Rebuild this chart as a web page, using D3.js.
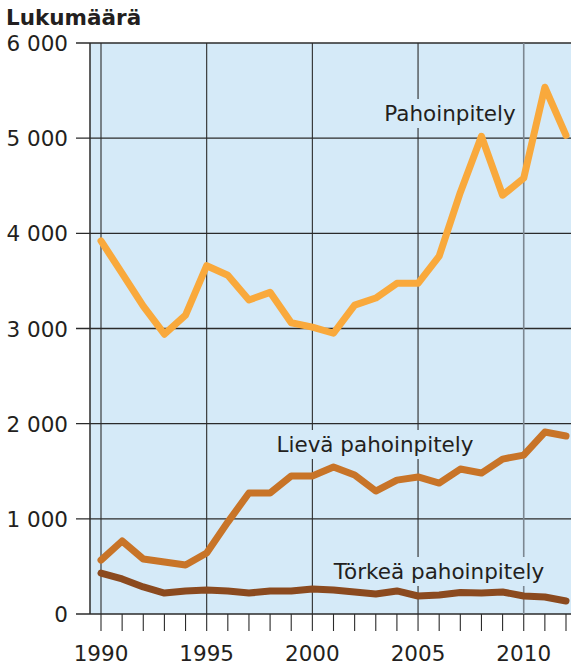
<!DOCTYPE html>
<html>
<head>
<meta charset="utf-8">
<script src="https://d3js.org/d3.v7.min.js"></script>
<style>
  body { margin: 0; background: #fff; }
  text { font-family: "DejaVu Sans", Verdana, sans-serif; fill: #231f20; }
</style>
</head>
<body>
<div id="chart"></div>
<script>
// data
var years = d3.range(1990, 2013);
var pahoinpitely = [3920, 3580, 3235, 2940, 3140, 3660, 3560, 3300, 3380, 3060, 3015, 2950,
                    3245, 3320, 3475, 3475, 3760, 4430, 5020, 4400, 4580, 5535, 5030];
var lieva = [567, 767, 578, 546, 515, 641, 966, 1271, 1271, 1450, 1450, 1545,
             1460, 1292, 1407, 1440, 1376, 1523, 1481, 1628, 1670, 1912, 1870];
var torkea = [430, 368, 284, 220, 242, 252, 241, 220, 242, 242, 263, 252,
              231, 210, 242, 189, 200, 225, 220, 231, 189, 179, 137];
var yTicks = [0, 1000, 2000, 3000, 4000, 5000, 6000];
var xLabels = [1990, 1995, 2000, 2005, 2010];

var width = 571, height = 668;
var svg = d3.select("#chart").append("svg")
    .attr("width", width).attr("height", height);

var x = d3.scaleLinear().domain([1990, 2012]).range([101, 566]);
var y = d3.scaleLinear().domain([0, 6000]).range([614, 43]);

var bg = "#d5eaf8";

// plot background
svg.append("rect")
    .attr("x", 90).attr("y", y(6000))
    .attr("width", width - 90).attr("height", y(0) - y(6000))
    .attr("fill", bg);

// horizontal grid + y ticks
svg.selectAll(".hgrid")
  .data(yTicks)
  .enter().append("line")
    .attr("x1", 76).attr("x2", width)
    .attr("y1", function (d) { return y(d); })
    .attr("y2", function (d) { return y(d); })
    .attr("stroke", "#2b2b2b").attr("stroke-width", 1.3);

// vertical grid
svg.selectAll(".vgrid")
  .data(xLabels)
  .enter().append("line")
    .attr("x1", function (d) { return x(d); })
    .attr("x2", function (d) { return x(d); })
    .attr("y1", y(6000)).attr("y2", y(0))
    .attr("stroke", function (d) { return d == 2010 ? "#7c8791" : "#2b2b2b"; })
    .attr("stroke-width", function (d) { return d == 2010 ? 1.6 : 1.1; });

// x ticks
svg.selectAll(".xtick")
  .data(years)
  .enter().append("line")
    .attr("x1", function (d) { return x(d); })
    .attr("x2", function (d) { return x(d); })
    .attr("y1", y(0)).attr("y2", y(0) + 17)
    .attr("stroke", "#2b2b2b").attr("stroke-width", 1.1);

// left axis line
svg.append("line")
    .attr("x1", 90).attr("x2", 90)
    .attr("y1", y(6000)).attr("y2", y(0))
    .attr("stroke", "#2b2b2b").attr("stroke-width", 1.5);

// y labels
svg.selectAll(".ylab")
  .data(yTicks)
  .enter().append("text")
    .attr("x", 68)
    .attr("y", function (d) { return y(d) + 8; })
    .attr("text-anchor", "end")
    .style("font-size", "21.5px")
    .text(function (d) { return d3.format(",")(d).replace(",", " "); });

// x labels
svg.selectAll(".xlab")
  .data(xLabels)
  .enter().append("text")
    .attr("x", function (d) { return x(d); })
    .attr("y", 661)
    .attr("text-anchor", "middle")
    .style("font-size", "21.5px")
    .text(function (d) { return d; });

// title
svg.append("text")
    .attr("x", 6).attr("y", 25)
    .style("font-size", "21.5px")
    .style("font-weight", "bold")
    .text("Lukumäärä");

// series labels with background boxes
var labels = [
  { t: "Pahoinpitely", x: 450, y: 121 },
  { t: "Lievä pahoinpitely", x: 375, y: 452 },
  { t: "Törkeä pahoinpitely", x: 439, y: 579 }
];
labels.forEach(function (l) {
  var g = svg.append("g");
  var txt = g.append("text")
      .attr("x", l.x).attr("y", l.y)
      .attr("text-anchor", "middle")
      .style("font-size", "21.5px")
      .text(l.t);
  var b = txt.node().getBBox();
  g.insert("rect", "text")
      .attr("x", b.x - 3).attr("y", b.y - 2)
      .attr("width", b.width + 6).attr("height", b.height + 4)
      .attr("fill", bg);
});

// lines
var line = d3.line()
    .x(function (d, i) { return x(years[i]); })
    .y(function (d) { return y(d); });

var series = [
  { v: pahoinpitely, c: "#f9a93c" },
  { v: lieva, c: "#c87428" },
  { v: torkea, c: "#8b4a1f" }
];
series.forEach(function (s) {
  svg.append("path")
      .datum(s.v)
      .attr("d", line)
      .attr("fill", "none")
      .attr("stroke", s.c)
      .attr("stroke-width", 7)
      .attr("stroke-linejoin", "round")
      .attr("stroke-linecap", "round");
});
</script>
</body>
</html>
